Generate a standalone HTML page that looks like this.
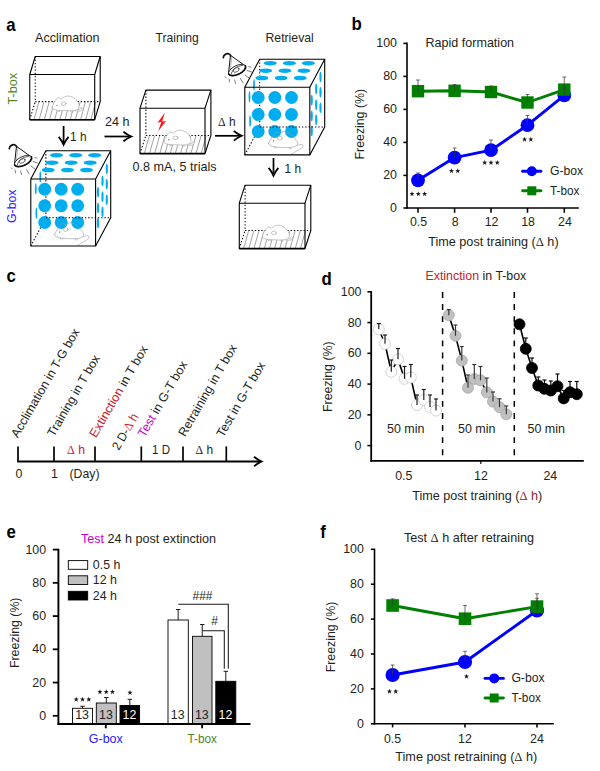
<!DOCTYPE html>
<html><head><meta charset="utf-8"><title>Figure</title>
<style>
html,body{margin:0;padding:0;background:#fff;}
body{width:600px;height:771px;overflow:hidden;}
svg{display:block;font-family:"Liberation Sans",sans-serif;}
</style></head><body>
<svg width="600" height="771" viewBox="0 0 600 771">
<rect width="600" height="771" fill="#fff"/>
<text transform="translate(6.30 31.00) scale(1.05 1.14)" font-size="16" font-weight="bold" fill="#000">a</text>
<text x="35.00" y="42.00" font-size="12.4" fill="#231f20" textLength="64.5" lengthAdjust="spacingAndGlyphs" >Acclimation</text>
<text x="155.50" y="42.00" font-size="12.4" fill="#231f20" textLength="43.3" lengthAdjust="spacingAndGlyphs" >Training</text>
<text x="265.50" y="42.00" font-size="12.4" fill="#231f20" textLength="48.3" lengthAdjust="spacingAndGlyphs" >Retrieval</text>
<text x="16.80" y="104.50" font-size="12.4" fill="#528524" transform="rotate(-90 16.80 104.50)" textLength="31.5" lengthAdjust="spacingAndGlyphs" >T-box</text>
<text x="16.30" y="223.00" font-size="12.4" fill="#2a1aff" transform="rotate(-90 16.30 223.00)" textLength="33.5" lengthAdjust="spacingAndGlyphs" >G-box</text>
<g stroke="#6f6f6f" stroke-width="0.65">
<path d="M34.05 119.60 L38.72 102.20"/>
<path d="M39.22 119.60 L43.89 102.20"/>
<path d="M44.39 119.60 L49.06 102.20"/>
<path d="M49.56 119.60 L54.23 102.20"/>
<path d="M54.73 119.60 L59.41 102.20"/>
<path d="M59.90 119.60 L64.58 102.20"/>
<path d="M65.07 119.60 L69.75 102.20"/>
<path d="M70.24 119.60 L74.92 102.20"/>
<path d="M75.41 119.60 L80.09 102.20"/>
<path d="M80.58 119.60 L85.26 102.20"/>
<path d="M85.75 119.60 L90.43 102.20"/>
<path d="M90.92 119.60 L95.60 102.20"/>
</g>
<g stroke="#000" stroke-width="1.05" stroke-dasharray="1.35 1.9" fill="none">
<path d="M35.25 56.50 L35.25 101.60"/>
<path d="M35.25 101.60 L100.20 101.60"/>
<path d="M29.75 119.60 L35.25 101.60"/>
</g>
<g transform="translate(52.00 96.00) scale(1.0)" fill="#fff" stroke="#ababab" stroke-width="0.7" stroke-linejoin="round" stroke-linecap="round">
<path d="M23 14.6 C26 16 30.5 15 30.2 12.6 C30 11.2 28.2 11.4 28.4 12.6 C28.6 13.6 26 14.4 24.5 13.6" />
<path d="M0 11.7 C0.8 9 2 6.5 3.6 4.6 C4.5 2.6 6 1.4 7 1.7 C8 2 8.6 2.8 9.2 3.1 C11 1.2 13.4 0.1 15.6 0 C18 0 20 0.8 21.6 1.8 C24 3.4 26 5.6 26.8 8 C27.6 10.4 27 12.6 25.4 13.6 C22 15.2 17 14.9 13 14.6 C10 14.4 6 15 3.4 13.8 C1.6 13.2 0.2 12.8 0 11.7 Z"/>
<path d="M5.5 14.2 C5 15.4 6.6 15.8 8 15.2 M18.5 14.9 C17.8 16.3 19.8 16.6 21.2 15.8" fill="none"/>
<ellipse cx="11.7" cy="7.7" rx="2.5" ry="1.8" />
<circle cx="5" cy="9.5" r="0.6" fill="#555" stroke="none"/>
</g>
<line x1="29.75" y1="119.70" x2="94.70" y2="119.70" stroke="#000" stroke-width="1.6" />
<g stroke="#000" stroke-width="1.1" fill="none" stroke-linejoin="round">
<rect x="29.75" y="74.50" width="64.95" height="45.10"/>
<path d="M29.75 74.50 L35.25 56.50 L100.20 56.50 L94.70 74.50"/>
<path d="M100.20 56.50 L100.20 101.60 L94.70 119.60"/>
</g>
<line x1="63.60" y1="126.00" x2="63.60" y2="144.30" stroke="#000" stroke-width="1.75" />
<path d="M58.70 136.90 Q61.88 140.68 63.60 144.70 Q65.31 140.68 68.50 136.90" fill="none" stroke="#000" stroke-width="1.75" stroke-linejoin="miter"/>
<text x="70.00" y="141.20" font-size="12.4" fill="#231f20" textLength="16.5" lengthAdjust="spacingAndGlyphs" >1 h</text>
<g transform="translate(0.00 0.00)" fill="none" stroke="#111" stroke-width="1.0" stroke-linecap="round" stroke-linejoin="round">
<path d="M9.3 148.6 C9.6 146 12.2 144.3 14.6 144.8 C15.8 145.1 16.4 146 16.7 147" stroke-width="1.7"/>
<path d="M16.4 147 L14.5 164.4 M16.9 146.6 L31.4 157" />
<path d="M17.7 148.6 L16.2 162.6" stroke="#888" stroke-width="0.6"/>
<g transform="translate(23.1 161) rotate(-26)">
<ellipse cx="0" cy="0" rx="9.3" ry="4.4" fill="#fff" stroke-width="0.8"/>
<path d="M-9.3 0 A9.3 4.4 0 0 0 9.3 0" stroke-width="1.7"/>
<ellipse cx="-0.8" cy="-0.5" rx="3.2" ry="2" stroke-width="0.7" stroke="#333"/>
<path d="M-7 1 C-4.4 -2.8 2 -3.6 6.8 -1.8" stroke-width="0.7" stroke="#333"/>
</g>
<g stroke="#5e5e5e" stroke-width="0.8">
<path d="M11.2 167.8 L12.3 168.9"/>
<path d="M15 170 L15.6 173"/>
<path d="M20.6 171 L21.6 174.6"/>
<path d="M26.5 169.5 L29 173.8"/>
<path d="M31 166 L35 169"/>
<path d="M33 161.5 L37.5 163"/>
<path d="M34.8 157.6 L37 158.2"/>
</g></g>
<g stroke="#000" stroke-width="1.05" stroke-dasharray="1.35 1.9" fill="none">
<path d="M45.90 150.80 L45.90 217.80"/>
<path d="M30.80 246.00 L45.90 217.80"/>
</g>
<g fill="#00aeef">
<circle cx="44.7" cy="189.2" r="6.45"/>
<circle cx="61.2" cy="189.2" r="6.45"/>
<circle cx="77.7" cy="189.2" r="6.45"/>
<circle cx="44.7" cy="205.8" r="6.45"/>
<circle cx="61.2" cy="205.8" r="6.45"/>
<circle cx="77.7" cy="205.8" r="6.45"/>
<circle cx="44.7" cy="222.5" r="6.45"/>
<circle cx="61.2" cy="222.5" r="6.45"/>
<circle cx="77.7" cy="222.5" r="6.45"/>
</g>
<g transform="translate(0.00 0.00)" fill="#00aeef">
<ellipse cx="56.5" cy="155.2" rx="6.4" ry="2.3"/>
<ellipse cx="75.7" cy="155.2" rx="6.4" ry="2.3"/>
<ellipse cx="94.7" cy="155.2" rx="6.4" ry="2.3"/>
<ellipse cx="52" cy="162.7" rx="6.4" ry="2.3"/>
<ellipse cx="71.2" cy="162.7" rx="6.4" ry="2.3"/>
<ellipse cx="90.2" cy="162.7" rx="6.4" ry="2.3"/>
<ellipse cx="48.2" cy="170" rx="6.4" ry="2.3"/>
<ellipse cx="67.4" cy="170" rx="6.4" ry="2.3"/>
<ellipse cx="86.5" cy="170" rx="6.4" ry="2.3"/>
<ellipse cx="98" cy="192.2" rx="1.1" ry="5.3"/>
<ellipse cx="98" cy="208" rx="1.1" ry="5.3"/>
<ellipse cx="98" cy="223" rx="1.1" ry="5.3"/>
<ellipse cx="102.5" cy="181" rx="1.1" ry="5.3"/>
<ellipse cx="102.5" cy="196.7" rx="1.1" ry="5.3"/>
<ellipse cx="102.5" cy="211.7" rx="1.1" ry="5.3"/>
<ellipse cx="106.8" cy="169" rx="1.1" ry="5.3"/>
<ellipse cx="106.8" cy="184.3" rx="1.1" ry="5.3"/>
<ellipse cx="106.8" cy="199.7" rx="1.1" ry="5.3"/>
<ellipse cx="35.8" cy="188.8" rx="0.9" ry="5.6"/>
<ellipse cx="36.4" cy="213.2" rx="0.9" ry="5.6"/>
<ellipse cx="40.3" cy="176.8" rx="0.9" ry="5.6"/>
</g>
<path d="M45.90 217.80 L110.70 217.80" stroke="#000" stroke-width="1.05" stroke-dasharray="1.35 1.9" fill="none"/>
<g transform="translate(54.00 222.30) scale(1.0)" fill="none" stroke="#9a9a9a" stroke-width="0.6" stroke-linejoin="round" stroke-linecap="round">
<path d="M0.5 12.5 C2 9 5 4 8 0.5 C9.5 1 10.5 2 11.7 2.7 C13 1.5 15 0.5 17 0.5 C20 0.8 23 3 24.5 5 C27 8 29 10 29.7 11.7 C30 14 28 15.5 25 16 C20 16.8 12 16.5 8 16 C4 15.5 1 14.5 0.5 12.5 Z"/>
<path d="M29 14.5 C32 13 35.5 13 35 15 C34.5 17.5 30 19 27 21 C26 22 24.5 22.8 23.7 23"/>
<path d="M6 15.6 C5.4 16.8 7 17.2 8.4 16.6 M21 16.4 C20.4 17.8 22.4 18 23.6 17.2"/>
<ellipse cx="11.7" cy="7.2" rx="2.2" ry="1.9" fill="#fff"/>
<circle cx="5.7" cy="9.8" r="0.6" fill="#444" stroke="none"/>
</g>
<g stroke="#000" stroke-width="1.1" fill="none" stroke-linejoin="round">
<rect x="30.80" y="179.00" width="64.80" height="67.00"/>
<path d="M30.80 179.00 L45.90 150.80 L110.70 150.80 L95.60 179.00"/>
<path d="M110.70 150.80 L110.70 217.80 L95.60 246.00"/>
</g>
<text x="105.00" y="125.50" font-size="12.4" fill="#231f20" textLength="24.5" lengthAdjust="spacingAndGlyphs" >24 h</text>
<line x1="104.50" y1="136.50" x2="131.00" y2="136.50" stroke="#000" stroke-width="1.75" />
<path d="M123.40 131.70 Q127.27 134.82 131.40 136.50 Q127.27 138.18 123.40 141.30" fill="none" stroke="#000" stroke-width="1.75" stroke-linejoin="miter"/>
<g stroke="#6f6f6f" stroke-width="0.65">
<path d="M144.30 153.50 L149.31 136.00"/>
<path d="M149.47 153.50 L154.49 136.00"/>
<path d="M154.64 153.50 L159.65 136.00"/>
<path d="M159.81 153.50 L164.82 136.00"/>
<path d="M164.98 153.50 L169.99 136.00"/>
<path d="M170.15 153.50 L175.16 136.00"/>
<path d="M175.32 153.50 L180.33 136.00"/>
<path d="M180.49 153.50 L185.50 136.00"/>
<path d="M185.66 153.50 L190.67 136.00"/>
<path d="M190.83 153.50 L195.84 136.00"/>
<path d="M196.00 153.50 L201.01 136.00"/>
<path d="M201.17 153.50 L206.18 136.00"/>
</g>
<g stroke="#000" stroke-width="1.05" stroke-dasharray="1.35 1.9" fill="none">
<path d="M145.90 90.10 L145.90 135.40"/>
<path d="M145.90 135.40 L210.90 135.40"/>
<path d="M140.00 153.50 L145.90 135.40"/>
</g>
<g transform="translate(163.80 130.20) scale(1.0)" fill="#fff" stroke="#ababab" stroke-width="0.7" stroke-linejoin="round" stroke-linecap="round">
<path d="M23 14.6 C26 16 30.5 15 30.2 12.6 C30 11.2 28.2 11.4 28.4 12.6 C28.6 13.6 26 14.4 24.5 13.6" />
<path d="M0 11.7 C0.8 9 2 6.5 3.6 4.6 C4.5 2.6 6 1.4 7 1.7 C8 2 8.6 2.8 9.2 3.1 C11 1.2 13.4 0.1 15.6 0 C18 0 20 0.8 21.6 1.8 C24 3.4 26 5.6 26.8 8 C27.6 10.4 27 12.6 25.4 13.6 C22 15.2 17 14.9 13 14.6 C10 14.4 6 15 3.4 13.8 C1.6 13.2 0.2 12.8 0 11.7 Z"/>
<path d="M5.5 14.2 C5 15.4 6.6 15.8 8 15.2 M18.5 14.9 C17.8 16.3 19.8 16.6 21.2 15.8" fill="none"/>
<ellipse cx="11.7" cy="7.7" rx="2.5" ry="1.8" />
<circle cx="5" cy="9.5" r="0.6" fill="#555" stroke="none"/>
</g>
<line x1="140.00" y1="153.60" x2="205.00" y2="153.60" stroke="#000" stroke-width="1.6" />
<g stroke="#000" stroke-width="1.1" fill="none" stroke-linejoin="round">
<rect x="140.00" y="108.20" width="65.00" height="45.30"/>
<path d="M140.00 108.20 L145.90 90.10 L210.90 90.10 L205.00 108.20"/>
<path d="M210.90 90.10 L210.90 135.40 L205.00 153.50"/>
</g>
<path d="M164.9 112.6 L157.6 122.7 L161.3 122.1 L158.1 131.6 L165.9 120.9 L162.2 121.6 Z" fill="#ff1a1a"/>
<text x="132.60" y="171.20" font-size="12.4" fill="#231f20" textLength="84" lengthAdjust="spacingAndGlyphs" >0.8 mA, 5 trials</text>
<text x="218.00" y="125.50" font-size="12.4" fill="#231f20" textLength="17.5" lengthAdjust="spacingAndGlyphs" ><tspan font-family="Liberation Serif">Δ</tspan> h</text>
<line x1="215.00" y1="135.80" x2="241.40" y2="135.80" stroke="#000" stroke-width="1.75" />
<path d="M233.80 131.00 Q237.67 134.12 241.80 135.80 Q237.67 137.48 233.80 140.60" fill="none" stroke="#000" stroke-width="1.75" stroke-linejoin="miter"/>
<g transform="translate(214.00 -91.00)" fill="none" stroke="#111" stroke-width="1.0" stroke-linecap="round" stroke-linejoin="round">
<path d="M9.3 148.6 C9.6 146 12.2 144.3 14.6 144.8 C15.8 145.1 16.4 146 16.7 147" stroke-width="1.7"/>
<path d="M16.4 147 L14.5 164.4 M16.9 146.6 L31.4 157" />
<path d="M17.7 148.6 L16.2 162.6" stroke="#888" stroke-width="0.6"/>
<g transform="translate(23.1 161) rotate(-26)">
<ellipse cx="0" cy="0" rx="9.3" ry="4.4" fill="#fff" stroke-width="0.8"/>
<path d="M-9.3 0 A9.3 4.4 0 0 0 9.3 0" stroke-width="1.7"/>
<ellipse cx="-0.8" cy="-0.5" rx="3.2" ry="2" stroke-width="0.7" stroke="#333"/>
<path d="M-7 1 C-4.4 -2.8 2 -3.6 6.8 -1.8" stroke-width="0.7" stroke="#333"/>
</g>
<g stroke="#5e5e5e" stroke-width="0.8">
<path d="M11.2 167.8 L12.3 168.9"/>
<path d="M15 170 L15.6 173"/>
<path d="M20.6 171 L21.6 174.6"/>
<path d="M26.5 169.5 L29 173.8"/>
<path d="M31 166 L35 169"/>
<path d="M33 161.5 L37.5 163"/>
<path d="M34.8 157.6 L37 158.2"/>
</g></g>
<g stroke="#000" stroke-width="1.05" stroke-dasharray="1.35 1.9" fill="none">
<path d="M259.70 59.20 L259.70 126.90"/>
<path d="M244.80 154.90 L259.70 126.90"/>
</g>
<g fill="#00aeef">
<circle cx="258.2" cy="97.5" r="6.45"/>
<circle cx="274.8" cy="97.5" r="6.45"/>
<circle cx="291.5" cy="97.5" r="6.45"/>
<circle cx="258.2" cy="114.5" r="6.45"/>
<circle cx="274.8" cy="114.5" r="6.45"/>
<circle cx="291.5" cy="114.5" r="6.45"/>
<circle cx="258.2" cy="131.5" r="6.45"/>
<circle cx="274.8" cy="131.5" r="6.45"/>
<circle cx="291.5" cy="131.5" r="6.45"/>
</g>
<g transform="translate(213.70 -92.00)" fill="#00aeef">
<ellipse cx="56.5" cy="155.2" rx="6.4" ry="2.3"/>
<ellipse cx="75.7" cy="155.2" rx="6.4" ry="2.3"/>
<ellipse cx="94.7" cy="155.2" rx="6.4" ry="2.3"/>
<ellipse cx="52" cy="162.7" rx="6.4" ry="2.3"/>
<ellipse cx="71.2" cy="162.7" rx="6.4" ry="2.3"/>
<ellipse cx="90.2" cy="162.7" rx="6.4" ry="2.3"/>
<ellipse cx="48.2" cy="170" rx="6.4" ry="2.3"/>
<ellipse cx="67.4" cy="170" rx="6.4" ry="2.3"/>
<ellipse cx="86.5" cy="170" rx="6.4" ry="2.3"/>
<ellipse cx="98" cy="192.2" rx="1.1" ry="5.3"/>
<ellipse cx="98" cy="208" rx="1.1" ry="5.3"/>
<ellipse cx="98" cy="223" rx="1.1" ry="5.3"/>
<ellipse cx="102.5" cy="181" rx="1.1" ry="5.3"/>
<ellipse cx="102.5" cy="196.7" rx="1.1" ry="5.3"/>
<ellipse cx="102.5" cy="211.7" rx="1.1" ry="5.3"/>
<ellipse cx="106.8" cy="169" rx="1.1" ry="5.3"/>
<ellipse cx="106.8" cy="184.3" rx="1.1" ry="5.3"/>
<ellipse cx="106.8" cy="199.7" rx="1.1" ry="5.3"/>
<ellipse cx="35.8" cy="188.8" rx="0.9" ry="5.6"/>
<ellipse cx="36.4" cy="213.2" rx="0.9" ry="5.6"/>
<ellipse cx="40.3" cy="176.8" rx="0.9" ry="5.6"/>
</g>
<path d="M259.70 126.90 L324.70 126.90" stroke="#000" stroke-width="1.05" stroke-dasharray="1.35 1.9" fill="none"/>
<g transform="translate(268.00 131.00) scale(1.0)" fill="none" stroke="#9a9a9a" stroke-width="0.6" stroke-linejoin="round" stroke-linecap="round">
<path d="M0.5 12.5 C2 9 5 4 8 0.5 C9.5 1 10.5 2 11.7 2.7 C13 1.5 15 0.5 17 0.5 C20 0.8 23 3 24.5 5 C27 8 29 10 29.7 11.7 C30 14 28 15.5 25 16 C20 16.8 12 16.5 8 16 C4 15.5 1 14.5 0.5 12.5 Z"/>
<path d="M29 14.5 C32 13 35.5 13 35 15 C34.5 17.5 30 19 27 21 C26 22 24.5 22.8 23.7 23"/>
<path d="M6 15.6 C5.4 16.8 7 17.2 8.4 16.6 M21 16.4 C20.4 17.8 22.4 18 23.6 17.2"/>
<ellipse cx="11.7" cy="7.2" rx="2.2" ry="1.9" fill="#fff"/>
<circle cx="5.7" cy="9.8" r="0.6" fill="#444" stroke="none"/>
</g>
<g stroke="#000" stroke-width="1.1" fill="none" stroke-linejoin="round">
<rect x="244.80" y="87.20" width="65.00" height="67.70"/>
<path d="M244.80 87.20 L259.70 59.20 L324.70 59.20 L309.80 87.20"/>
<path d="M324.70 59.20 L324.70 126.90 L309.80 154.90"/>
</g>
<line x1="273.50" y1="158.00" x2="273.50" y2="175.30" stroke="#000" stroke-width="1.75" />
<path d="M268.60 167.90 Q271.79 171.68 273.50 175.70 Q275.21 171.68 278.40 167.90" fill="none" stroke="#000" stroke-width="1.75" stroke-linejoin="miter"/>
<text x="284.50" y="172.50" font-size="12.4" fill="#231f20" textLength="16.5" lengthAdjust="spacingAndGlyphs" >1 h</text>
<g stroke="#6f6f6f" stroke-width="0.65">
<path d="M243.60 248.50 L248.53 231.10"/>
<path d="M248.77 248.50 L253.70 231.10"/>
<path d="M253.94 248.50 L258.87 231.10"/>
<path d="M259.11 248.50 L264.04 231.10"/>
<path d="M264.28 248.50 L269.21 231.10"/>
<path d="M269.45 248.50 L274.38 231.10"/>
<path d="M274.62 248.50 L279.55 231.10"/>
<path d="M279.79 248.50 L284.72 231.10"/>
<path d="M284.96 248.50 L289.89 231.10"/>
<path d="M290.13 248.50 L295.06 231.10"/>
<path d="M295.30 248.50 L300.23 231.10"/>
<path d="M300.47 248.50 L305.40 231.10"/>
</g>
<g stroke="#000" stroke-width="1.05" stroke-dasharray="1.35 1.9" fill="none">
<path d="M245.10 185.20 L245.10 230.50"/>
<path d="M245.10 230.50 L310.80 230.50"/>
<path d="M239.30 248.50 L245.10 230.50"/>
</g>
<g transform="translate(262.20 225.20) scale(1.0)" fill="#fff" stroke="#ababab" stroke-width="0.7" stroke-linejoin="round" stroke-linecap="round">
<path d="M23 14.6 C26 16 30.5 15 30.2 12.6 C30 11.2 28.2 11.4 28.4 12.6 C28.6 13.6 26 14.4 24.5 13.6" />
<path d="M0 11.7 C0.8 9 2 6.5 3.6 4.6 C4.5 2.6 6 1.4 7 1.7 C8 2 8.6 2.8 9.2 3.1 C11 1.2 13.4 0.1 15.6 0 C18 0 20 0.8 21.6 1.8 C24 3.4 26 5.6 26.8 8 C27.6 10.4 27 12.6 25.4 13.6 C22 15.2 17 14.9 13 14.6 C10 14.4 6 15 3.4 13.8 C1.6 13.2 0.2 12.8 0 11.7 Z"/>
<path d="M5.5 14.2 C5 15.4 6.6 15.8 8 15.2 M18.5 14.9 C17.8 16.3 19.8 16.6 21.2 15.8" fill="none"/>
<ellipse cx="11.7" cy="7.7" rx="2.5" ry="1.8" />
<circle cx="5" cy="9.5" r="0.6" fill="#555" stroke="none"/>
</g>
<line x1="239.30" y1="248.60" x2="305.00" y2="248.60" stroke="#000" stroke-width="1.6" />
<g stroke="#000" stroke-width="1.1" fill="none" stroke-linejoin="round">
<rect x="239.30" y="203.20" width="65.70" height="45.30"/>
<path d="M239.30 203.20 L245.10 185.20 L310.80 185.20 L305.00 203.20"/>
<path d="M310.80 185.20 L310.80 230.50 L305.00 248.50"/>
</g>
<text transform="translate(351.60 30.40) scale(1.05 1.14)" font-size="16" font-weight="bold" fill="#000">b</text>
<text x="425.50" y="47.00" font-size="12.4" fill="#231f20" textLength="88.6" lengthAdjust="spacingAndGlyphs" >Rapid formation</text>
<line x1="407.00" y1="42.40" x2="407.00" y2="208.60" stroke="#000" stroke-width="1.6" />
<line x1="406.40" y1="208.00" x2="578.80" y2="208.00" stroke="#000" stroke-width="1.6" />
<line x1="403.40" y1="208.00" x2="407.00" y2="208.00" stroke="#000" stroke-width="1.55" />
<text x="397.00" y="212.00" font-size="12.4" fill="#231f20" text-anchor="end" >0</text>
<line x1="403.40" y1="175.40" x2="407.00" y2="175.40" stroke="#000" stroke-width="1.55" />
<text x="397.00" y="179.40" font-size="12.4" fill="#231f20" text-anchor="end" >20</text>
<line x1="403.40" y1="142.40" x2="407.00" y2="142.40" stroke="#000" stroke-width="1.55" />
<text x="397.00" y="146.40" font-size="12.4" fill="#231f20" text-anchor="end" >40</text>
<line x1="403.40" y1="109.40" x2="407.00" y2="109.40" stroke="#000" stroke-width="1.55" />
<text x="397.00" y="113.40" font-size="12.4" fill="#231f20" text-anchor="end" >60</text>
<line x1="403.40" y1="76.40" x2="407.00" y2="76.40" stroke="#000" stroke-width="1.55" />
<text x="397.00" y="80.40" font-size="12.4" fill="#231f20" text-anchor="end" >80</text>
<line x1="403.40" y1="43.40" x2="407.00" y2="43.40" stroke="#000" stroke-width="1.55" />
<text x="397.00" y="47.40" font-size="12.4" fill="#231f20" text-anchor="end" >100</text>
<line x1="418.00" y1="208.00" x2="418.00" y2="212.80" stroke="#000" stroke-width="1.55" />
<text x="418.60" y="226.30" font-size="12.4" fill="#231f20" text-anchor="middle" >0.5</text>
<line x1="454.60" y1="208.00" x2="454.60" y2="212.80" stroke="#000" stroke-width="1.55" />
<text x="455.20" y="226.30" font-size="12.4" fill="#231f20" text-anchor="middle" >8</text>
<line x1="491.00" y1="208.00" x2="491.00" y2="212.80" stroke="#000" stroke-width="1.55" />
<text x="491.60" y="226.30" font-size="12.4" fill="#231f20" text-anchor="middle" >12</text>
<line x1="527.50" y1="208.00" x2="527.50" y2="212.80" stroke="#000" stroke-width="1.55" />
<text x="528.10" y="226.30" font-size="12.4" fill="#231f20" text-anchor="middle" >18</text>
<line x1="564.30" y1="208.00" x2="564.30" y2="212.80" stroke="#000" stroke-width="1.55" />
<text x="564.90" y="226.30" font-size="12.4" fill="#231f20" text-anchor="middle" >24</text>
<text x="364.50" y="124.20" font-size="12.4" fill="#231f20" text-anchor="middle" transform="rotate(-90 364.50 124.20)" textLength="70.5" lengthAdjust="spacingAndGlyphs" >Freezing (%)</text>
<text x="428.30" y="246.00" font-size="12.4" fill="#231f20" textLength="130.3" lengthAdjust="spacingAndGlyphs" >Time post training (<tspan font-family="Liberation Serif">Δ</tspan> h)</text>
<polyline points="418.00,180.30 454.60,157.60 491.00,150.20 527.50,125.20 564.30,95.30" fill="none" stroke="#0000ff" stroke-width="2.9" stroke-linejoin="round"/>
<circle cx="418.00" cy="180.30" r="6.9" fill="#0000ff" stroke="none" stroke-width="1"/>
<circle cx="454.60" cy="157.60" r="6.9" fill="#0000ff" stroke="none" stroke-width="1"/>
<circle cx="491.00" cy="150.20" r="6.9" fill="#0000ff" stroke="none" stroke-width="1"/>
<circle cx="527.50" cy="125.20" r="6.9" fill="#0000ff" stroke="none" stroke-width="1"/>
<circle cx="564.30" cy="95.30" r="6.9" fill="#0000ff" stroke="none" stroke-width="1"/>
<polyline points="418.00,91.20 454.60,90.80 491.00,92.00 527.50,102.50 564.30,89.60" fill="none" stroke="#007f00" stroke-width="2.9" stroke-linejoin="round"/>
<rect x="411.80" y="85.00" width="12.40" height="12.40" fill="#007f00" stroke="none" stroke-width="1"/>
<rect x="448.40" y="84.60" width="12.40" height="12.40" fill="#007f00" stroke="none" stroke-width="1"/>
<rect x="484.80" y="85.80" width="12.40" height="12.40" fill="#007f00" stroke="none" stroke-width="1"/>
<rect x="521.30" y="96.30" width="12.40" height="12.40" fill="#007f00" stroke="none" stroke-width="1"/>
<rect x="558.10" y="83.40" width="12.40" height="12.40" fill="#007f00" stroke="none" stroke-width="1"/>
<line x1="418.00" y1="180.30" x2="418.00" y2="173.00" stroke="#3c3c3c" stroke-width="0.75" />
<line x1="416.10" y1="173.00" x2="419.90" y2="173.00" stroke="#3c3c3c" stroke-width="0.75" />
<line x1="454.60" y1="157.60" x2="454.60" y2="148.00" stroke="#3c3c3c" stroke-width="0.75" />
<line x1="452.70" y1="148.00" x2="456.50" y2="148.00" stroke="#3c3c3c" stroke-width="0.75" />
<line x1="491.00" y1="150.20" x2="491.00" y2="140.00" stroke="#3c3c3c" stroke-width="0.75" />
<line x1="489.10" y1="140.00" x2="492.90" y2="140.00" stroke="#3c3c3c" stroke-width="0.75" />
<line x1="527.50" y1="125.20" x2="527.50" y2="115.50" stroke="#3c3c3c" stroke-width="0.75" />
<line x1="525.60" y1="115.50" x2="529.40" y2="115.50" stroke="#3c3c3c" stroke-width="0.75" />
<line x1="564.30" y1="95.30" x2="564.30" y2="88.00" stroke="#3c3c3c" stroke-width="0.75" />
<line x1="562.40" y1="88.00" x2="566.20" y2="88.00" stroke="#3c3c3c" stroke-width="0.75" />
<line x1="418.00" y1="91.20" x2="418.00" y2="80.00" stroke="#3c3c3c" stroke-width="0.75" />
<line x1="416.10" y1="80.00" x2="419.90" y2="80.00" stroke="#3c3c3c" stroke-width="0.75" />
<line x1="454.60" y1="90.80" x2="454.60" y2="84.50" stroke="#3c3c3c" stroke-width="0.75" />
<line x1="452.70" y1="84.50" x2="456.50" y2="84.50" stroke="#3c3c3c" stroke-width="0.75" />
<line x1="491.00" y1="92.00" x2="491.00" y2="86.00" stroke="#3c3c3c" stroke-width="0.75" />
<line x1="489.10" y1="86.00" x2="492.90" y2="86.00" stroke="#3c3c3c" stroke-width="0.75" />
<line x1="527.50" y1="102.50" x2="527.50" y2="94.50" stroke="#3c3c3c" stroke-width="0.75" />
<line x1="525.60" y1="94.50" x2="529.40" y2="94.50" stroke="#3c3c3c" stroke-width="0.75" />
<line x1="564.30" y1="89.60" x2="564.30" y2="77.00" stroke="#3c3c3c" stroke-width="0.75" />
<line x1="562.40" y1="77.00" x2="566.20" y2="77.00" stroke="#3c3c3c" stroke-width="0.75" />
<polygon points="412.00,191.30 412.65,193.11 414.57,193.17 413.05,194.34 413.59,196.18 412.00,195.10 410.41,196.18 410.95,194.34 409.43,193.17 411.35,193.11" fill="#1a1a1a" stroke="none" stroke-width="0" />
<polygon points="418.30,191.30 418.95,193.11 420.87,193.17 419.35,194.34 419.89,196.18 418.30,195.10 416.71,196.18 417.25,194.34 415.73,193.17 417.65,193.11" fill="#1a1a1a" stroke="none" stroke-width="0" />
<polygon points="424.60,191.30 425.25,193.11 427.17,193.17 425.65,194.34 426.19,196.18 424.60,195.10 423.01,196.18 423.55,194.34 422.03,193.17 423.95,193.11" fill="#1a1a1a" stroke="none" stroke-width="0" />
<polygon points="451.45,168.30 452.10,170.11 454.02,170.17 452.50,171.34 453.04,173.18 451.45,172.10 449.86,173.18 450.40,171.34 448.88,170.17 450.80,170.11" fill="#1a1a1a" stroke="none" stroke-width="0" />
<polygon points="457.75,168.30 458.40,170.11 460.32,170.17 458.80,171.34 459.34,173.18 457.75,172.10 456.16,173.18 456.70,171.34 455.18,170.17 457.10,170.11" fill="#1a1a1a" stroke="none" stroke-width="0" />
<polygon points="484.70,160.00 485.35,161.81 487.27,161.87 485.75,163.04 486.29,164.88 484.70,163.80 483.11,164.88 483.65,163.04 482.13,161.87 484.05,161.81" fill="#1a1a1a" stroke="none" stroke-width="0" />
<polygon points="491.00,160.00 491.65,161.81 493.57,161.87 492.05,163.04 492.59,164.88 491.00,163.80 489.41,164.88 489.95,163.04 488.43,161.87 490.35,161.81" fill="#1a1a1a" stroke="none" stroke-width="0" />
<polygon points="497.30,160.00 497.95,161.81 499.87,161.87 498.35,163.04 498.89,164.88 497.30,163.80 495.71,164.88 496.25,163.04 494.73,161.87 496.65,161.81" fill="#1a1a1a" stroke="none" stroke-width="0" />
<polygon points="524.55,136.80 525.20,138.61 527.12,138.67 525.60,139.84 526.14,141.68 524.55,140.60 522.96,141.68 523.50,139.84 521.98,138.67 523.90,138.61" fill="#1a1a1a" stroke="none" stroke-width="0" />
<polygon points="530.85,136.80 531.50,138.61 533.42,138.67 531.90,139.84 532.44,141.68 530.85,140.60 529.26,141.68 529.80,139.84 528.28,138.67 530.20,138.61" fill="#1a1a1a" stroke="none" stroke-width="0" />
<line x1="522.60" y1="171.30" x2="540.90" y2="171.30" stroke="#0000ff" stroke-width="2.9" stroke-linecap="round"/>
<circle cx="531.80" cy="171.30" r="5" fill="#0000ff" stroke="none" stroke-width="1"/>
<text x="550.00" y="175.20" font-size="12.4" fill="#231f20" textLength="33.2" lengthAdjust="spacingAndGlyphs" >G-box</text>
<line x1="522.60" y1="190.80" x2="540.90" y2="190.80" stroke="#007f00" stroke-width="2.9" stroke-linecap="round"/>
<rect x="527.30" y="186.30" width="9.00" height="9.00" fill="#007f00" stroke="none" stroke-width="1"/>
<text x="550.00" y="194.60" font-size="12.4" fill="#231f20" textLength="29.5" lengthAdjust="spacingAndGlyphs" >T-box</text>
<text transform="translate(6.50 282.40) scale(1.05 1.14)" font-size="16" font-weight="bold" fill="#000">c</text>
<line x1="17.20" y1="461.50" x2="260.50" y2="461.50" stroke="#000" stroke-width="1.9" />
<path d="M254 456.80 Q258 459.90 261.6 461.50 Q258 463.10 254 466.20" fill="none" stroke="#000" stroke-width="1.8" stroke-linejoin="miter"/>
<line x1="18.00" y1="446.40" x2="18.00" y2="461.50" stroke="#000" stroke-width="1.7" />
<line x1="54.00" y1="446.40" x2="54.00" y2="461.50" stroke="#000" stroke-width="1.7" />
<line x1="95.00" y1="446.40" x2="95.00" y2="461.50" stroke="#000" stroke-width="1.7" />
<line x1="141.30" y1="446.40" x2="141.30" y2="461.50" stroke="#000" stroke-width="1.7" />
<line x1="183.00" y1="446.40" x2="183.00" y2="461.50" stroke="#000" stroke-width="1.7" />
<line x1="226.30" y1="446.40" x2="226.30" y2="461.50" stroke="#000" stroke-width="1.7" />
<text x="19.00" y="478.30" font-size="12.4" fill="#231f20" text-anchor="middle" >0</text>
<text x="54.50" y="478.30" font-size="12.4" fill="#231f20" text-anchor="middle" >1</text>
<text x="69.50" y="478.30" font-size="12.4" fill="#231f20" textLength="30" lengthAdjust="spacingAndGlyphs" >(Day)</text>
<text x="67.00" y="453.80" font-size="12.4" fill="#c8202a" textLength="18" lengthAdjust="spacingAndGlyphs" ><tspan font-family="Liberation Serif">Δ</tspan> h</text>
<text x="152.00" y="454.30" font-size="12.4" fill="#231f20" textLength="18" lengthAdjust="spacingAndGlyphs" >1 D</text>
<text x="195.50" y="454.30" font-size="12.4" fill="#231f20" textLength="17.5" lengthAdjust="spacingAndGlyphs" ><tspan font-family="Liberation Serif">Δ</tspan> h</text>
<text x="17.80" y="438.50" font-size="12.4" fill="#231f20" transform="rotate(-59.8 17.80 438.50)" textLength="123.5" lengthAdjust="spacingAndGlyphs" ><tspan fill="#231f20">Acclimation in T-G box</tspan></text>
<text x="54.00" y="437.50" font-size="12.4" fill="#231f20" transform="rotate(-59.8 54.00 437.50)" textLength="92" lengthAdjust="spacingAndGlyphs" ><tspan fill="#231f20">Training in T box</tspan></text>
<text x="96.00" y="438.50" font-size="12.4" fill="#231f20" transform="rotate(-59.8 96.00 438.50)" textLength="104" lengthAdjust="spacingAndGlyphs" ><tspan fill="#c8202a">Extinction</tspan><tspan fill="#231f20"> in T box</tspan></text>
<text x="118.80" y="451.00" font-size="12.4" fill="#231f20" transform="rotate(-59.8 118.80 451.00)" textLength="40" lengthAdjust="spacingAndGlyphs" ><tspan fill="#231f20">2 D-</tspan><tspan fill="#c8202a"><tspan font-family="Liberation Serif">Δ</tspan> h</tspan></text>
<text x="144.60" y="438.00" font-size="12.4" fill="#231f20" transform="rotate(-59.8 144.60 438.00)" textLength="85.5" lengthAdjust="spacingAndGlyphs" ><tspan fill="#cc00cc">Test</tspan><tspan fill="#231f20"> in G-T box</tspan></text>
<text x="185.00" y="437.50" font-size="12.4" fill="#231f20" transform="rotate(-59.8 185.00 437.50)" textLength="104" lengthAdjust="spacingAndGlyphs" ><tspan fill="#231f20">Retraining in T box</tspan></text>
<text x="223.20" y="438.00" font-size="12.4" fill="#231f20" transform="rotate(-59.8 223.20 438.00)" textLength="84.5" lengthAdjust="spacingAndGlyphs" ><tspan fill="#231f20">Test in G-T box</tspan></text>
<text transform="translate(321.40 285.40) scale(1.05 1.14)" font-size="16" font-weight="bold" fill="#000">d</text>
<text x="425.50" y="280.00" font-size="12.4" fill="#231f20" textLength="100.8" lengthAdjust="spacingAndGlyphs" ><tspan fill="#c8202a">Extinction</tspan> in T-box</text>
<line x1="371.20" y1="291.10" x2="371.20" y2="461.80" stroke="#000" stroke-width="1.8" />
<line x1="370.40" y1="460.90" x2="583.80" y2="460.90" stroke="#000" stroke-width="1.8" />
<line x1="367.40" y1="445.60" x2="371.20" y2="445.60" stroke="#000" stroke-width="1.55" />
<text x="361.50" y="449.60" font-size="12.4" fill="#231f20" text-anchor="end" >0</text>
<line x1="367.40" y1="414.84" x2="371.20" y2="414.84" stroke="#000" stroke-width="1.55" />
<text x="361.50" y="418.84" font-size="12.4" fill="#231f20" text-anchor="end" >20</text>
<line x1="367.40" y1="384.08" x2="371.20" y2="384.08" stroke="#000" stroke-width="1.55" />
<text x="361.50" y="388.08" font-size="12.4" fill="#231f20" text-anchor="end" >40</text>
<line x1="367.40" y1="353.32" x2="371.20" y2="353.32" stroke="#000" stroke-width="1.55" />
<text x="361.50" y="357.32" font-size="12.4" fill="#231f20" text-anchor="end" >60</text>
<line x1="367.40" y1="322.56" x2="371.20" y2="322.56" stroke="#000" stroke-width="1.55" />
<text x="361.50" y="326.56" font-size="12.4" fill="#231f20" text-anchor="end" >80</text>
<line x1="367.40" y1="291.80" x2="371.20" y2="291.80" stroke="#000" stroke-width="1.55" />
<text x="361.50" y="295.80" font-size="12.4" fill="#231f20" text-anchor="end" >100</text>
<line x1="442.60" y1="292.00" x2="442.60" y2="456.00" stroke="#000" stroke-width="1.5" stroke-dasharray="5.9 6.2"/>
<line x1="514.30" y1="292.00" x2="514.30" y2="456.00" stroke="#000" stroke-width="1.5" stroke-dasharray="5.9 6.2"/>
<line x1="480.80" y1="460.80" x2="480.80" y2="464.00" stroke="#000" stroke-width="1.1" />
<text x="403.80" y="480.00" font-size="12.4" fill="#231f20" text-anchor="middle" >0.5</text>
<text x="481.00" y="480.00" font-size="12.4" fill="#231f20" text-anchor="middle" >12</text>
<text x="550.30" y="480.00" font-size="12.4" fill="#231f20" text-anchor="middle" >24</text>
<text x="387.00" y="432.50" font-size="12.4" fill="#231f20" textLength="37.5" lengthAdjust="spacingAndGlyphs" >50 min</text>
<text x="458.00" y="432.50" font-size="12.4" fill="#231f20" textLength="37.5" lengthAdjust="spacingAndGlyphs" >50 min</text>
<text x="527.50" y="432.50" font-size="12.4" fill="#231f20" textLength="37.5" lengthAdjust="spacingAndGlyphs" >50 min</text>
<text x="412.20" y="500.30" font-size="12.4" fill="#231f20" textLength="130" lengthAdjust="spacingAndGlyphs" >Time post training (<tspan fill="#981b1e"><tspan font-family="Liberation Serif">Δ</tspan> h</tspan>)</text>
<text x="331.60" y="376.70" font-size="12.4" fill="#231f20" text-anchor="middle" transform="rotate(-90 331.60 376.70)" textLength="70.5" lengthAdjust="spacingAndGlyphs" >Freezing (%)</text>
<polyline points="378.80,329.30 385.00,343.80 391.30,371.80 398.00,359.30 404.50,378.80 410.80,377.50 417.00,405.00 423.80,400.00 430.00,407.00 436.00,410.60" fill="none" stroke="#000" stroke-width="1.6" />
<circle cx="378.80" cy="329.30" r="5.5" fill="#fff" stroke="#c8c8c8" stroke-width="0.8"/>
<circle cx="385.00" cy="343.80" r="5.5" fill="#fff" stroke="#c8c8c8" stroke-width="0.8"/>
<circle cx="391.30" cy="371.80" r="5.5" fill="#fff" stroke="#c8c8c8" stroke-width="0.8"/>
<circle cx="398.00" cy="359.30" r="5.5" fill="#fff" stroke="#c8c8c8" stroke-width="0.8"/>
<circle cx="404.50" cy="378.80" r="5.5" fill="#fff" stroke="#c8c8c8" stroke-width="0.8"/>
<circle cx="410.80" cy="377.50" r="5.5" fill="#fff" stroke="#c8c8c8" stroke-width="0.8"/>
<circle cx="417.00" cy="405.00" r="5.5" fill="#fff" stroke="#c8c8c8" stroke-width="0.8"/>
<circle cx="423.80" cy="400.00" r="5.5" fill="#fff" stroke="#c8c8c8" stroke-width="0.8"/>
<circle cx="430.00" cy="407.00" r="5.5" fill="#fff" stroke="#c8c8c8" stroke-width="0.8"/>
<circle cx="436.00" cy="410.60" r="5.5" fill="#fff" stroke="#c8c8c8" stroke-width="0.8"/>
<line x1="378.80" y1="329.30" x2="378.80" y2="323.50" stroke="#151515" stroke-width="1.15" />
<line x1="376.80" y1="323.50" x2="380.80" y2="323.50" stroke="#151515" stroke-width="1.15" />
<line x1="385.00" y1="343.80" x2="385.00" y2="335.00" stroke="#151515" stroke-width="1.15" />
<line x1="383.00" y1="335.00" x2="387.00" y2="335.00" stroke="#151515" stroke-width="1.15" />
<line x1="391.30" y1="371.80" x2="391.30" y2="360.00" stroke="#151515" stroke-width="1.15" />
<line x1="389.30" y1="360.00" x2="393.30" y2="360.00" stroke="#151515" stroke-width="1.15" />
<line x1="398.00" y1="359.30" x2="398.00" y2="348.50" stroke="#151515" stroke-width="1.15" />
<line x1="396.00" y1="348.50" x2="400.00" y2="348.50" stroke="#151515" stroke-width="1.15" />
<line x1="404.50" y1="378.80" x2="404.50" y2="366.50" stroke="#151515" stroke-width="1.15" />
<line x1="402.50" y1="366.50" x2="406.50" y2="366.50" stroke="#151515" stroke-width="1.15" />
<line x1="410.80" y1="377.50" x2="410.80" y2="364.50" stroke="#151515" stroke-width="1.15" />
<line x1="408.80" y1="364.50" x2="412.80" y2="364.50" stroke="#151515" stroke-width="1.15" />
<line x1="417.00" y1="405.00" x2="417.00" y2="395.00" stroke="#151515" stroke-width="1.15" />
<line x1="415.00" y1="395.00" x2="419.00" y2="395.00" stroke="#151515" stroke-width="1.15" />
<line x1="423.80" y1="400.00" x2="423.80" y2="389.50" stroke="#151515" stroke-width="1.15" />
<line x1="421.80" y1="389.50" x2="425.80" y2="389.50" stroke="#151515" stroke-width="1.15" />
<line x1="430.00" y1="407.00" x2="430.00" y2="395.00" stroke="#151515" stroke-width="1.15" />
<line x1="428.00" y1="395.00" x2="432.00" y2="395.00" stroke="#151515" stroke-width="1.15" />
<line x1="436.00" y1="410.60" x2="436.00" y2="399.00" stroke="#151515" stroke-width="1.15" />
<line x1="434.00" y1="399.00" x2="438.00" y2="399.00" stroke="#151515" stroke-width="1.15" />
<polyline points="448.80,315.20 455.50,335.80 461.80,360.60 468.00,387.80 474.30,379.00 480.50,380.30 486.80,392.40 493.00,401.60 499.50,407.20 506.30,414.30" fill="none" stroke="#000" stroke-width="1.6" />
<circle cx="448.80" cy="315.20" r="5.5" fill="#c0c0c0" stroke="#a8a8a8" stroke-width="0.8"/>
<circle cx="455.50" cy="335.80" r="5.5" fill="#c0c0c0" stroke="#a8a8a8" stroke-width="0.8"/>
<circle cx="461.80" cy="360.60" r="5.5" fill="#c0c0c0" stroke="#a8a8a8" stroke-width="0.8"/>
<circle cx="468.00" cy="387.80" r="5.5" fill="#c0c0c0" stroke="#a8a8a8" stroke-width="0.8"/>
<circle cx="474.30" cy="379.00" r="5.5" fill="#c0c0c0" stroke="#a8a8a8" stroke-width="0.8"/>
<circle cx="480.50" cy="380.30" r="5.5" fill="#c0c0c0" stroke="#a8a8a8" stroke-width="0.8"/>
<circle cx="486.80" cy="392.40" r="5.5" fill="#c0c0c0" stroke="#a8a8a8" stroke-width="0.8"/>
<circle cx="493.00" cy="401.60" r="5.5" fill="#c0c0c0" stroke="#a8a8a8" stroke-width="0.8"/>
<circle cx="499.50" cy="407.20" r="5.5" fill="#c0c0c0" stroke="#a8a8a8" stroke-width="0.8"/>
<circle cx="506.30" cy="414.30" r="5.5" fill="#c0c0c0" stroke="#a8a8a8" stroke-width="0.8"/>
<line x1="448.80" y1="315.20" x2="448.80" y2="309.50" stroke="#333" stroke-width="1.15" />
<line x1="446.80" y1="309.50" x2="450.80" y2="309.50" stroke="#333" stroke-width="1.15" />
<line x1="455.50" y1="335.80" x2="455.50" y2="325.00" stroke="#333" stroke-width="1.15" />
<line x1="453.50" y1="325.00" x2="457.50" y2="325.00" stroke="#333" stroke-width="1.15" />
<line x1="461.80" y1="360.60" x2="461.80" y2="346.50" stroke="#333" stroke-width="1.15" />
<line x1="459.80" y1="346.50" x2="463.80" y2="346.50" stroke="#333" stroke-width="1.15" />
<line x1="468.00" y1="387.80" x2="468.00" y2="375.00" stroke="#333" stroke-width="1.15" />
<line x1="466.00" y1="375.00" x2="470.00" y2="375.00" stroke="#333" stroke-width="1.15" />
<line x1="474.30" y1="379.00" x2="474.30" y2="364.50" stroke="#333" stroke-width="1.15" />
<line x1="472.30" y1="364.50" x2="476.30" y2="364.50" stroke="#333" stroke-width="1.15" />
<line x1="480.50" y1="380.30" x2="480.50" y2="366.50" stroke="#333" stroke-width="1.15" />
<line x1="478.50" y1="366.50" x2="482.50" y2="366.50" stroke="#333" stroke-width="1.15" />
<line x1="486.80" y1="392.40" x2="486.80" y2="378.00" stroke="#333" stroke-width="1.15" />
<line x1="484.80" y1="378.00" x2="488.80" y2="378.00" stroke="#333" stroke-width="1.15" />
<line x1="493.00" y1="401.60" x2="493.00" y2="392.00" stroke="#333" stroke-width="1.15" />
<line x1="491.00" y1="392.00" x2="495.00" y2="392.00" stroke="#333" stroke-width="1.15" />
<line x1="499.50" y1="407.20" x2="499.50" y2="398.80" stroke="#333" stroke-width="1.15" />
<line x1="497.50" y1="398.80" x2="501.50" y2="398.80" stroke="#333" stroke-width="1.15" />
<line x1="506.30" y1="414.30" x2="506.30" y2="406.00" stroke="#333" stroke-width="1.15" />
<line x1="504.30" y1="406.00" x2="508.30" y2="406.00" stroke="#333" stroke-width="1.15" />
<polyline points="519.50,324.30 525.80,348.80 532.00,368.00 538.30,385.50 544.50,388.80 550.80,390.50 557.50,386.30 563.70,398.40 570.00,392.20 576.80,394.20" fill="none" stroke="#000" stroke-width="1.6" />
<circle cx="519.50" cy="324.30" r="5.5" fill="#000" stroke="#000" stroke-width="0.8"/>
<circle cx="525.80" cy="348.80" r="5.5" fill="#000" stroke="#000" stroke-width="0.8"/>
<circle cx="532.00" cy="368.00" r="5.5" fill="#000" stroke="#000" stroke-width="0.8"/>
<circle cx="538.30" cy="385.50" r="5.5" fill="#000" stroke="#000" stroke-width="0.8"/>
<circle cx="544.50" cy="388.80" r="5.5" fill="#000" stroke="#000" stroke-width="0.8"/>
<circle cx="550.80" cy="390.50" r="5.5" fill="#000" stroke="#000" stroke-width="0.8"/>
<circle cx="557.50" cy="386.30" r="5.5" fill="#000" stroke="#000" stroke-width="0.8"/>
<circle cx="563.70" cy="398.40" r="5.5" fill="#000" stroke="#000" stroke-width="0.8"/>
<circle cx="570.00" cy="392.20" r="5.5" fill="#000" stroke="#000" stroke-width="0.8"/>
<circle cx="576.80" cy="394.20" r="5.5" fill="#000" stroke="#000" stroke-width="0.8"/>
<line x1="519.50" y1="324.30" x2="519.50" y2="322.00" stroke="#000" stroke-width="1.15" />
<line x1="517.50" y1="322.00" x2="521.50" y2="322.00" stroke="#000" stroke-width="1.15" />
<line x1="525.80" y1="348.80" x2="525.80" y2="338.00" stroke="#000" stroke-width="1.15" />
<line x1="523.80" y1="338.00" x2="527.80" y2="338.00" stroke="#000" stroke-width="1.15" />
<line x1="532.00" y1="368.00" x2="532.00" y2="358.00" stroke="#000" stroke-width="1.15" />
<line x1="530.00" y1="358.00" x2="534.00" y2="358.00" stroke="#000" stroke-width="1.15" />
<line x1="538.30" y1="385.50" x2="538.30" y2="377.00" stroke="#000" stroke-width="1.15" />
<line x1="536.30" y1="377.00" x2="540.30" y2="377.00" stroke="#000" stroke-width="1.15" />
<line x1="544.50" y1="388.80" x2="544.50" y2="380.00" stroke="#000" stroke-width="1.15" />
<line x1="542.50" y1="380.00" x2="546.50" y2="380.00" stroke="#000" stroke-width="1.15" />
<line x1="550.80" y1="390.50" x2="550.80" y2="381.00" stroke="#000" stroke-width="1.15" />
<line x1="548.80" y1="381.00" x2="552.80" y2="381.00" stroke="#000" stroke-width="1.15" />
<line x1="557.50" y1="386.30" x2="557.50" y2="374.00" stroke="#000" stroke-width="1.15" />
<line x1="555.50" y1="374.00" x2="559.50" y2="374.00" stroke="#000" stroke-width="1.15" />
<line x1="563.70" y1="398.40" x2="563.70" y2="390.50" stroke="#000" stroke-width="1.15" />
<line x1="561.70" y1="390.50" x2="565.70" y2="390.50" stroke="#000" stroke-width="1.15" />
<line x1="570.00" y1="392.20" x2="570.00" y2="381.50" stroke="#000" stroke-width="1.15" />
<line x1="568.00" y1="381.50" x2="572.00" y2="381.50" stroke="#000" stroke-width="1.15" />
<line x1="576.80" y1="394.20" x2="576.80" y2="381.50" stroke="#000" stroke-width="1.15" />
<line x1="574.80" y1="381.50" x2="578.80" y2="381.50" stroke="#000" stroke-width="1.15" />
<text transform="translate(6.50 537.80) scale(1.05 1.14)" font-size="16" font-weight="bold" fill="#000">e</text>
<text x="80.90" y="543.00" font-size="12.4" fill="#231f20" textLength="135.2" lengthAdjust="spacingAndGlyphs" ><tspan fill="#cc00cc">Test</tspan> 24 h post extinction</text>
<line x1="58.40" y1="548.80" x2="58.40" y2="724.90" stroke="#000" stroke-width="1.9" />
<line x1="52.80" y1="715.80" x2="58.40" y2="715.80" stroke="#000" stroke-width="1.8" />
<text x="46.10" y="719.80" font-size="12.4" fill="#231f20" text-anchor="end" >0</text>
<line x1="52.80" y1="682.56" x2="58.40" y2="682.56" stroke="#000" stroke-width="1.8" />
<text x="46.10" y="686.56" font-size="12.4" fill="#231f20" text-anchor="end" >20</text>
<line x1="52.80" y1="649.32" x2="58.40" y2="649.32" stroke="#000" stroke-width="1.8" />
<text x="46.10" y="653.32" font-size="12.4" fill="#231f20" text-anchor="end" >40</text>
<line x1="52.80" y1="616.08" x2="58.40" y2="616.08" stroke="#000" stroke-width="1.8" />
<text x="46.10" y="620.08" font-size="12.4" fill="#231f20" text-anchor="end" >60</text>
<line x1="52.80" y1="582.84" x2="58.40" y2="582.84" stroke="#000" stroke-width="1.8" />
<text x="46.10" y="586.84" font-size="12.4" fill="#231f20" text-anchor="end" >80</text>
<line x1="52.80" y1="549.60" x2="58.40" y2="549.60" stroke="#000" stroke-width="1.8" />
<text x="46.10" y="553.60" font-size="12.4" fill="#231f20" text-anchor="end" >100</text>
<text x="19.20" y="632.80" font-size="12.4" fill="#231f20" text-anchor="middle" transform="rotate(-90 19.20 632.80)" textLength="70.5" lengthAdjust="spacingAndGlyphs" >Freezing (%)</text>
<rect x="72.50" y="708.30" width="20.00" height="15.70" fill="#fff" stroke="#000" stroke-width="0.9"/>
<line x1="82.50" y1="708.30" x2="82.50" y2="706.30" stroke="#000" stroke-width="0.9" />
<line x1="80.30" y1="706.30" x2="84.70" y2="706.30" stroke="#000" stroke-width="0.9" />
<text x="82.10" y="719.40" font-size="12.4" fill="#231f20" text-anchor="middle" >13</text>
<rect x="96.30" y="703.00" width="20.00" height="21.00" fill="#c0c0c0" stroke="#000" stroke-width="0.9"/>
<line x1="106.30" y1="703.00" x2="106.30" y2="697.50" stroke="#000" stroke-width="0.9" />
<line x1="104.10" y1="697.50" x2="108.50" y2="697.50" stroke="#000" stroke-width="0.9" />
<text x="105.90" y="719.40" font-size="12.4" fill="#231f20" text-anchor="middle" >13</text>
<rect x="120.00" y="705.50" width="19.60" height="18.50" fill="#000" stroke="#000" stroke-width="0.9"/>
<line x1="129.80" y1="705.50" x2="129.80" y2="699.30" stroke="#000" stroke-width="0.9" />
<line x1="127.60" y1="699.30" x2="132.00" y2="699.30" stroke="#000" stroke-width="0.9" />
<text x="129.40" y="719.40" font-size="12.4" fill="#fff" text-anchor="middle" >12</text>
<rect x="168.00" y="620.00" width="20.30" height="104.00" fill="#fff" stroke="#000" stroke-width="0.9"/>
<line x1="178.15" y1="620.00" x2="178.15" y2="609.50" stroke="#000" stroke-width="0.9" />
<line x1="175.95" y1="609.50" x2="180.35" y2="609.50" stroke="#000" stroke-width="0.9" />
<text x="177.75" y="718.50" font-size="12.4" fill="#231f20" text-anchor="middle" >13</text>
<rect x="192.50" y="636.30" width="19.50" height="87.70" fill="#c0c0c0" stroke="#000" stroke-width="0.9"/>
<line x1="202.25" y1="636.30" x2="202.25" y2="624.50" stroke="#000" stroke-width="0.9" />
<line x1="200.05" y1="624.50" x2="204.45" y2="624.50" stroke="#000" stroke-width="0.9" />
<text x="201.85" y="718.50" font-size="12.4" fill="#231f20" text-anchor="middle" >13</text>
<rect x="215.80" y="681.30" width="20.00" height="42.70" fill="#000" stroke="#000" stroke-width="0.9"/>
<line x1="225.80" y1="681.30" x2="225.80" y2="671.30" stroke="#000" stroke-width="0.9" />
<line x1="223.60" y1="671.30" x2="228.00" y2="671.30" stroke="#000" stroke-width="0.9" />
<text x="225.40" y="718.50" font-size="12.4" fill="#fff" text-anchor="middle" >12</text>
<line x1="57.50" y1="724.00" x2="250.50" y2="724.00" stroke="#000" stroke-width="2.0" />
<line x1="105.80" y1="724.00" x2="105.80" y2="728.30" stroke="#000" stroke-width="1.9" />
<line x1="202.10" y1="724.00" x2="202.10" y2="728.30" stroke="#000" stroke-width="1.9" />
<text x="88.80" y="743.00" font-size="12.4" fill="#2a1aff" textLength="34" lengthAdjust="spacingAndGlyphs" >G-box</text>
<text x="187.50" y="743.00" font-size="12.4" fill="#528524" textLength="29.5" lengthAdjust="spacingAndGlyphs" >T-box</text>
<polygon points="76.20,696.80 76.85,698.61 78.77,698.67 77.25,699.84 77.79,701.68 76.20,700.60 74.61,701.68 75.15,699.84 73.63,698.67 75.55,698.61" fill="#1a1a1a" stroke="none" stroke-width="0" />
<polygon points="82.50,696.80 83.15,698.61 85.07,698.67 83.55,699.84 84.09,701.68 82.50,700.60 80.91,701.68 81.45,699.84 79.93,698.67 81.85,698.61" fill="#1a1a1a" stroke="none" stroke-width="0" />
<polygon points="88.80,696.80 89.45,698.61 91.37,698.67 89.85,699.84 90.39,701.68 88.80,700.60 87.21,701.68 87.75,699.84 86.23,698.67 88.15,698.61" fill="#1a1a1a" stroke="none" stroke-width="0" />
<polygon points="99.90,689.30 100.55,691.11 102.47,691.17 100.95,692.34 101.49,694.18 99.90,693.10 98.31,694.18 98.85,692.34 97.33,691.17 99.25,691.11" fill="#1a1a1a" stroke="none" stroke-width="0" />
<polygon points="106.20,689.30 106.85,691.11 108.77,691.17 107.25,692.34 107.79,694.18 106.20,693.10 104.61,694.18 105.15,692.34 103.63,691.17 105.55,691.11" fill="#1a1a1a" stroke="none" stroke-width="0" />
<polygon points="112.50,689.30 113.15,691.11 115.07,691.17 113.55,692.34 114.09,694.18 112.50,693.10 110.91,694.18 111.45,692.34 109.93,691.17 111.85,691.11" fill="#1a1a1a" stroke="none" stroke-width="0" />
<polygon points="130.00,690.00 130.65,691.81 132.57,691.87 131.05,693.04 131.59,694.88 130.00,693.80 128.41,694.88 128.95,693.04 127.43,691.87 129.35,691.81" fill="#1a1a1a" stroke="none" stroke-width="0" />
<rect x="68.30" y="560.60" width="19.40" height="8.70" fill="#fff" stroke="#000" stroke-width="0.9"/>
<text x="92.80" y="569.00" font-size="12.4" fill="#231f20" >0.5 h</text>
<rect x="68.30" y="575.80" width="19.40" height="8.70" fill="#c0c0c0" stroke="#000" stroke-width="0.9"/>
<text x="92.80" y="584.20" font-size="12.4" fill="#231f20" >12 h</text>
<rect x="68.30" y="591.30" width="19.40" height="8.70" fill="#000" stroke="#000" stroke-width="0.9"/>
<text x="92.80" y="599.70" font-size="12.4" fill="#231f20" >24 h</text>
<g fill="none" stroke="#1a1a1a" stroke-width="1.05">
<path d="M178.3 604.3 L228.3 604.3 L228.3 668.8"/>
<path d="M202.5 630.8 L224.3 630.8 L224.3 668.8"/>
</g>
<text x="202.50" y="599.80" font-size="12" fill="#231f20" text-anchor="middle" >###</text>
<text x="214.50" y="624.60" font-size="12" fill="#231f20" text-anchor="middle" >#</text>
<text transform="translate(320.20 537.90) scale(1.05 1.14)" font-size="16" font-weight="bold" fill="#000">f</text>
<text x="404.00" y="542.00" font-size="12.4" fill="#231f20" textLength="130" lengthAdjust="spacingAndGlyphs" >Test <tspan font-family="Liberation Serif">Δ</tspan> h after retraining</text>
<line x1="374.50" y1="548.70" x2="374.50" y2="724.40" stroke="#000" stroke-width="1.6" />
<line x1="373.90" y1="723.80" x2="553.80" y2="723.80" stroke="#000" stroke-width="1.6" />
<line x1="370.90" y1="723.80" x2="374.50" y2="723.80" stroke="#000" stroke-width="1.55" />
<text x="363.90" y="727.80" font-size="12.4" fill="#231f20" text-anchor="end" >0</text>
<line x1="370.90" y1="688.90" x2="374.50" y2="688.90" stroke="#000" stroke-width="1.55" />
<text x="363.90" y="692.90" font-size="12.4" fill="#231f20" text-anchor="end" >20</text>
<line x1="370.90" y1="654.00" x2="374.50" y2="654.00" stroke="#000" stroke-width="1.55" />
<text x="363.90" y="658.00" font-size="12.4" fill="#231f20" text-anchor="end" >40</text>
<line x1="370.90" y1="619.10" x2="374.50" y2="619.10" stroke="#000" stroke-width="1.55" />
<text x="363.90" y="623.10" font-size="12.4" fill="#231f20" text-anchor="end" >60</text>
<line x1="370.90" y1="584.20" x2="374.50" y2="584.20" stroke="#000" stroke-width="1.55" />
<text x="363.90" y="588.20" font-size="12.4" fill="#231f20" text-anchor="end" >80</text>
<line x1="370.90" y1="549.30" x2="374.50" y2="549.30" stroke="#000" stroke-width="1.55" />
<text x="363.90" y="553.30" font-size="12.4" fill="#231f20" text-anchor="end" >100</text>
<line x1="392.60" y1="723.80" x2="392.60" y2="727.40" stroke="#000" stroke-width="1.55" />
<text x="392.60" y="742.50" font-size="12.4" fill="#231f20" text-anchor="middle" >0.5</text>
<line x1="465.00" y1="723.80" x2="465.00" y2="727.40" stroke="#000" stroke-width="1.55" />
<text x="465.00" y="742.50" font-size="12.4" fill="#231f20" text-anchor="middle" >12</text>
<line x1="537.00" y1="723.80" x2="537.00" y2="727.40" stroke="#000" stroke-width="1.55" />
<text x="537.00" y="742.50" font-size="12.4" fill="#231f20" text-anchor="middle" >24</text>
<text x="335.20" y="637.00" font-size="12.4" fill="#231f20" text-anchor="middle" transform="rotate(-90 335.20 637.00)" textLength="70.5" lengthAdjust="spacingAndGlyphs" >Freezing (%)</text>
<text x="395.30" y="760.80" font-size="12.4" fill="#231f20" textLength="142" lengthAdjust="spacingAndGlyphs" >Time post retraining (<tspan font-family="Liberation Serif">Δ</tspan> h)</text>
<polyline points="392.60,675.00 465.00,662.00 537.00,610.50" fill="none" stroke="#0000ff" stroke-width="2.9" stroke-linejoin="round"/>
<circle cx="392.60" cy="675.00" r="7.1" fill="#0000ff" stroke="none" stroke-width="1"/>
<circle cx="465.00" cy="662.00" r="7.1" fill="#0000ff" stroke="none" stroke-width="1"/>
<circle cx="537.00" cy="610.50" r="7.1" fill="#0000ff" stroke="none" stroke-width="1"/>
<polyline points="392.60,605.50 465.00,618.70 537.00,606.60" fill="none" stroke="#007f00" stroke-width="2.9" stroke-linejoin="round"/>
<rect x="386.30" y="599.20" width="12.60" height="12.60" fill="#007f00" stroke="none" stroke-width="1"/>
<rect x="458.70" y="612.40" width="12.60" height="12.60" fill="#007f00" stroke="none" stroke-width="1"/>
<rect x="530.70" y="600.30" width="12.60" height="12.60" fill="#007f00" stroke="none" stroke-width="1"/>
<line x1="392.60" y1="675.00" x2="392.60" y2="665.00" stroke="#3c3c3c" stroke-width="0.75" />
<line x1="390.70" y1="665.00" x2="394.50" y2="665.00" stroke="#3c3c3c" stroke-width="0.75" />
<line x1="465.00" y1="662.00" x2="465.00" y2="651.30" stroke="#3c3c3c" stroke-width="0.75" />
<line x1="463.10" y1="651.30" x2="466.90" y2="651.30" stroke="#3c3c3c" stroke-width="0.75" />
<line x1="537.00" y1="610.50" x2="537.00" y2="598.30" stroke="#3c3c3c" stroke-width="0.75" />
<line x1="535.10" y1="598.30" x2="538.90" y2="598.30" stroke="#3c3c3c" stroke-width="0.75" />
<line x1="392.60" y1="605.50" x2="392.60" y2="598.80" stroke="#3c3c3c" stroke-width="0.75" />
<line x1="390.70" y1="598.80" x2="394.50" y2="598.80" stroke="#3c3c3c" stroke-width="0.75" />
<line x1="465.00" y1="618.70" x2="465.00" y2="605.50" stroke="#3c3c3c" stroke-width="0.75" />
<line x1="463.10" y1="605.50" x2="466.90" y2="605.50" stroke="#3c3c3c" stroke-width="0.75" />
<line x1="537.00" y1="606.60" x2="537.00" y2="593.80" stroke="#3c3c3c" stroke-width="0.75" />
<line x1="535.10" y1="593.80" x2="538.90" y2="593.80" stroke="#3c3c3c" stroke-width="0.75" />
<polygon points="389.45,688.80 390.10,690.61 392.02,690.67 390.50,691.84 391.04,693.68 389.45,692.60 387.86,693.68 388.40,691.84 386.88,690.67 388.80,690.61" fill="#1a1a1a" stroke="none" stroke-width="0" />
<polygon points="395.75,688.80 396.40,690.61 398.32,690.67 396.80,691.84 397.34,693.68 395.75,692.60 394.16,693.68 394.70,691.84 393.18,690.67 395.10,690.61" fill="#1a1a1a" stroke="none" stroke-width="0" />
<polygon points="466.50,673.80 467.15,675.61 469.07,675.67 467.55,676.84 468.09,678.68 466.50,677.60 464.91,678.68 465.45,676.84 463.93,675.67 465.85,675.61" fill="#1a1a1a" stroke="none" stroke-width="0" />
<line x1="485.00" y1="678.40" x2="503.40" y2="678.40" stroke="#0000ff" stroke-width="2.9" stroke-linecap="round"/>
<circle cx="494.20" cy="678.40" r="5" fill="#0000ff" stroke="none" stroke-width="1"/>
<text x="511.40" y="682.30" font-size="12.4" fill="#231f20" textLength="33.2" lengthAdjust="spacingAndGlyphs" >G-box</text>
<line x1="485.00" y1="698.00" x2="503.40" y2="698.00" stroke="#007f00" stroke-width="2.9" stroke-linecap="round"/>
<rect x="489.70" y="693.50" width="9.00" height="9.00" fill="#007f00" stroke="none" stroke-width="1"/>
<text x="511.40" y="702.00" font-size="12.4" fill="#231f20" textLength="29.5" lengthAdjust="spacingAndGlyphs" >T-box</text>
</svg>
</body></html>
